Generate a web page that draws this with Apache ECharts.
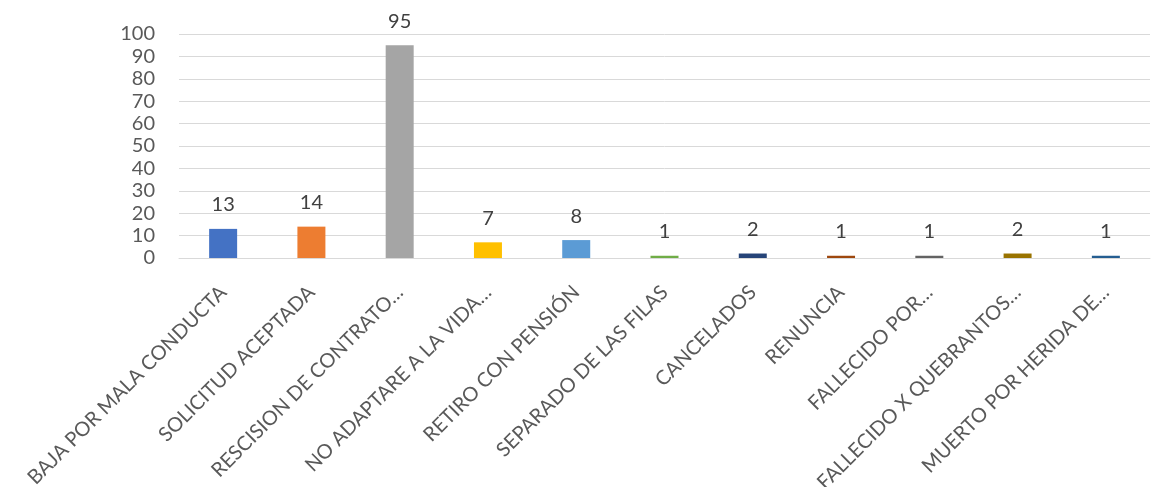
<!DOCTYPE html>
<html>
<head>
<meta charset="utf-8">
<script src="https://cdn.jsdelivr.net/npm/echarts@6/dist/echarts.min.js"></script>
<style>html,body{margin:0;padding:0;background:#fff}#c{width:1167px;height:487px}</style>
</head>
<body>
<div id="c"></div>
<script>
const categories = ["BAJA POR MALA CONDUCTA","SOLICITUD ACEPTADA","RESCISION DE CONTRATO…","NO ADAPTARE A LA VIDA…","RETIRO CON PENSIÓN","SEPARADO DE LAS FILAS","CANCELADOS","RENUNCIA","FALLECIDO POR…","FALLECIDO X QUEBRANTOS…","MUERTO POR HERIDA DE…"];
const values = [13,14,95,7,8,1,2,1,1,2,1];
const barColors = ["#4472C4","#ED7D31","#A5A5A5","#FFC000","#5B9BD5","#70AD47","#264478","#9E480E","#636363","#997300","#255E91"];
const yTicks = [0,10,20,30,40,50,60,70,80,90,100];

const chart = echarts.init(document.getElementById('c'), null, {renderer:'canvas'});
chart.setOption({
  animation:false,
  grid:{left:179,right:17,top:34,bottom:229,containLabel:false,outerBoundsMode:'none'},
  xAxis:{
    type:'category',
    data:categories,
    axisLine:{show:true,lineStyle:{color:'#D9D9D9',width:1}},
    axisTick:{show:false},
    axisLabel:{rotate:45,interval:0,margin:31,color:'#595959',fontSize:20,fontFamily:'Lato'}
  },
  yAxis:{
    type:'value',min:yTicks[0],max:yTicks[yTicks.length-1],interval:10,
    axisLine:{show:false},axisTick:{show:false},
    splitLine:{lineStyle:{color:'#D9D9D9',width:1}},
    axisLabel:{margin:24,color:'#595959',fontSize:20,fontFamily:'Lato'}
  },
  series:[{
    type:'bar',
    data:values.map((v,i)=>({value:v,itemStyle:{color:barColors[i]}})),
    barWidth:28,
    label:{show:true,position:'top',distance:14,color:'#404040',fontSize:20,fontFamily:'Lato'}
  }]
});
</script>
</body>
</html>
